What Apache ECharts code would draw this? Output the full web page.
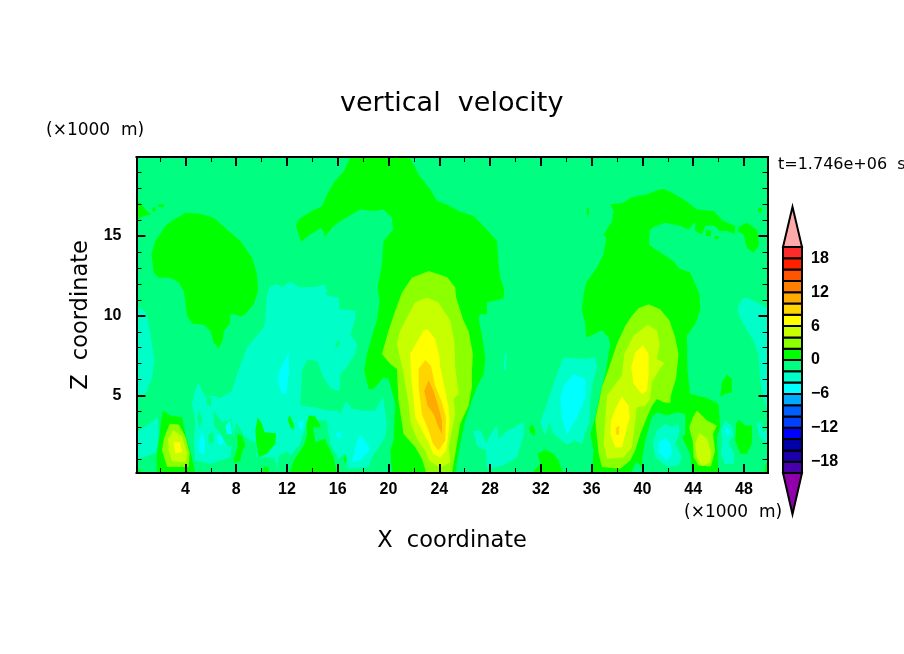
<!DOCTYPE html>
<html>
<head>
<meta charset="utf-8">
<title>vertical velocity</title>
<script src="https://cdn.jsdelivr.net/npm/echarts@6/dist/echarts.min.js"></script>
<style>
  html, body { margin: 0; padding: 0; background: #fff; }
  #chart { width: 904px; height: 654px; }
</style>
</head>
<body>
<div id="chart"></div>
<script>
// axis ticks, km
const xMajorTicks = [4, 8, 12, 16, 20, 24, 28, 32, 36, 40, 44, 48];
const xMinorTicks = [2, 6, 10, 14, 18, 22, 26, 30, 34, 38, 42, 46];
const zMajorTicks = [5, 10, 15];
const zMinorTicks = [1, 2, 3, 4, 6, 7, 8, 9, 11, 12, 13, 14, 16, 17, 18, 19];
const xRange = [0.15, 49.85];
const zRange = [0.15, 19.95];

// colour scale, lower edge of each band
const bandEdges = [-20, -18, -16, -14, -12, -10, -8, -6, -4, -2, 0, 2, 4, 6, 8, 10, 12, 14, 16, 18];
const bandColors = ['#4800aa', '#1c00aa', '#0000aa', '#0000ff', '#0040ff', '#0060ff', '#00aaff', '#00ffff', '#00ffc8', '#00ff80',
  '#00ff00', '#8cff00', '#c8ff00', '#ffff00', '#ffd500', '#ffaa00', '#ff7f00', '#ff5500', '#ff2000', '#ff2a2a'];
const barLabels = [-18, -12, -6, 0, 6, 12, 18];
const overColor = '#ffaaaa';
const underColor = '#9000aa';

// contour regions as [x km, z km]
const field = [[0.15, 0.15], [49.85, 0.15], [49.85, 19.95], [0.15, 19.95]];

const tealLeftUpper = [[0.15, 10.62], [0.72, 10.31], [0.98, 10], [1.24, 8.85], [1.56, 7.19], [1.38, 6.14], [0.85, 5.1], [0.15, 4.93]];
const tealLeftLower = [[0.15, 2.7], [0.98, 3.12], [1.82, 3.64], [1.9, 2.39], [1.72, 1.46], [0.72, 1.14], [0.15, 1.04]];
const tealCentral = [[10.43, 11.35], [10.69, 11.87], [11.22, 11.98], [11.61, 11.77], [12.27, 12.14], [13.06, 11.77], [14.1, 11.81], [15.02, 11.94], [15.16, 11.56], [15.02, 11.31], [16.07, 11.14], [16.15, 10.41], [17.38, 10.31], [17.38, 9.79], [16.99, 8.85], [17.51, 8.23], [17.38, 7.6], [16.59, 6.66], [16.2, 6.35], [16.2, 4.58], [16.72, 4.58], [17.12, 4.16], [17.91, 4.06], [18.96, 4.06], [19.56, 4.89], [19.87, 3.23], [19.74, 2.39], [18.69, 1.14], [18.43, 0.52], [16.86, 0.41], [16.51, 1.35], [16.07, 1.04], [15.42, 1.98], [15.16, 3.44], [13.58, 3.44], [13.06, 1.98], [12.27, 1.25], [12, 1.52], [11.35, 1.25], [11.27, 0.48], [11.01, 1.14], [9.64, 1.14], [9.51, 2.08], [8.72, 2.39], [8.02, 3.33], [7.68, 1.98], [7.54, 1.14], [5.97, 0.73], [4.79, 0.94], [4.66, 1.98], [4.79, 3.44], [4.53, 4.48], [4.79, 5.41], [5.05, 5.77], [5.31, 5.31], [5.57, 4.93], [6.02, 5], [6.76, 4.85], [7.68, 5.31], [8.07, 6.35], [8.86, 8.02], [10.17, 9.27], [10.3, 9.69]];
const tealAfterPeak = [[26.7, 2.77], [27.22, 2.85], [27.7, 1.98], [28.06, 2.6], [28.54, 3.16], [28.67, 2.29], [29.19, 2.71], [30.64, 3.33], [30.64, 2.5], [30.11, 1.14], [29.06, 0.62], [27.75, 0.41], [27.67, 1.56], [26.96, 1.87]];
const tealSlit = [[29.19, 7.64], [29.32, 7.6], [29.24, 6.6], [29.06, 6.6]];
const tealMid = [[33.79, 7.39], [35.36, 7.29], [36.28, 7.39], [36.41, 6.77], [36.02, 5.52], [35.84, 4.27], [35.84, 3.44], [35.23, 1.98], [34.71, 2.19], [34.05, 1.94], [33, 2.6], [32.74, 3.12], [32.6, 3.23], [32.34, 2.5], [31.95, 3.33], [32.74, 5.1], [33.26, 6.35]];
const tealRightLow = [[46.52, 3.39], [47.05, 3.12], [47.18, 2.5], [46.78, 2.08], [47.23, 1.35], [47.18, 0.73], [46.52, 0.68], [46.18, 1.35], [46.31, 2.19], [46.18, 2.91]];
const tealRightUp = [[47.52, 10.52], [47.83, 11.04], [48.22, 11.14], [49.01, 10.83], [49.85, 10.48], [49.85, 4.06], [49.54, 4.85], [49.28, 5.94], [49.14, 7.6], [48.75, 8.43], [47.96, 9.48], [47.57, 10.1]];
const tealEdge = [[49.01, 3.23], [49.33, 3.33], [49.54, 2.71], [49.85, 2.91], [49.85, 2.08], [49.28, 2.29]];

const bgPatchA = [[13.06, 4.37], [13.19, 6.56], [13.58, 7.25], [14.37, 7.19], [14.89, 6.14], [15.42, 5.48], [16.15, 5.27], [16.26, 6.35], [16.99, 6.73], [17.51, 6.14], [18.09, 5.31], [18.96, 4.27], [17.91, 4.27], [17.12, 4.37], [16.72, 4.79], [16.2, 3.85], [15.94, 4.06], [15.16, 4.06], [14.11, 4.27]];
const bgPatchB = [[4.92, 3.64], [5.1, 4.1], [5.34, 3.44], [5.13, 2.98]];
const bgPatchC = [[5.71, 4.93], [6.1, 4.85], [5.97, 4.27], [5.65, 4.58]];
const bgPatchD = [[6.23, 4.06], [6.89, 3.33], [7.68, 3.54], [7.81, 1.98], [7.41, 1.77], [6.76, 2.6], [6.23, 3.12]];
const bgPatchE = [[5.84, 2.6], [6.23, 2.71], [6.23, 2.08], [5.84, 1.98]];
const bgSlit = [[15.73, 7.98], [15.98, 8.44], [16.2, 8.4], [16.07, 8.06]];

const cyanA = [[5.05, 2.08], [5.31, 2.71], [5.57, 2.08], [5.44, 1.35], [5.05, 1.46]];
const cyanB = [[6.44, 2.5], [6.76, 2.56], [7.07, 2.08], [6.76, 1.87], [6.55, 2.08]];
const cyanC = [[7.15, 3.12], [7.54, 3.44], [7.68, 2.6], [7.28, 2.6]];
const cyanD = [[11.22, 6.04], [11.48, 6.66], [12.14, 7.71], [12.14, 6.35], [11.95, 5.1], [11.61, 5.1]];
const cyanE = [[12.92, 3.33], [13.32, 3.44], [13.19, 2.81], [12.92, 3.02]];
const cyanF = [[15.81, 2.6], [16.2, 2.71], [16.34, 2.39], [16.07, 2.29]];
const cyanG = [[17.77, 2.6], [18.56, 1.66], [17.77, 0.93], [17.12, 0.83], [17.38, 1.77]];
const cyanMid = [[34.58, 6.35], [35.5, 6.04], [35.5, 4.89], [34.84, 3.64], [34.05, 2.56], [33.66, 3.64], [33.53, 4.89], [33.79, 5.62]];
const cyanRight = [[46.65, 3.02], [46.91, 2.71], [46.7, 2.5], [46.52, 2.77]];

const greenCorner = [[0.15, 17.18], [0.46, 17.08], [0.85, 16.66], [1.3, 16.35], [0.72, 16.25], [0.15, 15.98]];
const greenDotA = [[1.36, 16.66], [1.51, 16.84], [1.66, 16.66], [1.51, 16.48]];
const greenDotB = [[1.85, 16.98], [2.3, 16.98], [2.3, 16.82], [1.85, 16.82]];
const greenBlob = [[4, 16.46], [5.18, 16.39], [6.23, 16.14], [7.28, 15.41], [8.33, 14.69], [9.25, 13.64], [9.64, 12.6], [9.72, 11.56], [9.38, 10.73], [8.72, 10.1], [8.33, 9.96], [7.86, 10.1], [7.54, 10.1], [7.49, 9.48], [7.02, 9.06], [6.97, 8.54], [6.63, 7.96], [6.23, 8.33], [5.97, 9.06], [5.44, 9.44], [4.53, 9.52], [4.13, 10], [4, 10.94], [3.87, 11.56], [3.48, 12.08], [2.82, 12.39], [1.9, 12.39], [1.51, 12.7], [1.32, 13.85], [1.64, 14.69], [2.16, 15.31], [2.43, 15.62], [3.08, 16.04], [3.6, 16.25]];
const greenLeftPeak = [[2.24, 4.06], [2.82, 3.75], [3.74, 3.64], [4, 2.6], [4.53, 1.04], [4.79, 0.15], [1.77, 0.15], [1.72, 1.14], [1.98, 2.6], [2.08, 3.44]];
const greenFoot = [[0.15, 0.52], [0.67, 0.15], [0.15, 0.15]];
const greenA = [[8.07, 2.6], [8.46, 2.5], [8.72, 1.87], [8.46, 1.46], [8.33, 0.94], [7.81, 0.73], [7.86, 1.14], [8.12, 1.77]];
const greenB = [[9.7, 3.64], [10.04, 3.23], [10.22, 2.71], [11.14, 2.64], [11.09, 1.98], [10.43, 1.35], [9.77, 1.14], [9.59, 1.98], [9.51, 2.81]];
const greenC = [[12.22, 3.75], [12.53, 3.23], [12.53, 2.85], [12.27, 3.02], [12.06, 3.54]];
const greenBlock = [[13.71, 3.75], [14.24, 3.69], [14.63, 3.12], [15.16, 1.98], [15.68, 1.14], [15.94, 0.15], [12.22, 0.15], [12.53, 0.94], [13.32, 1.87], [13.58, 2.5], [13.58, 3.23]];
const bgBlockHole = [[14.05, 3.02], [15.02, 3.02], [15.02, 2.29], [14.24, 2.08]];
const greenD = [[10.04, 0.15], [10.17, 0.56], [10.56, 0.52], [10.56, 0.15]];
const greenE = [[16.47, 0.94], [16.6, 1.35], [16.73, 0.94], [16.6, 0.79]];
const greenCentral = [[12.71, 15.62], [12.92, 16.04], [13.84, 16.52], [14.76, 16.87], [15.16, 17.6], [15.68, 18.33], [16.47, 19.06], [16.99, 19.95], [21.66, 19.95], [22.37, 18.85], [23.29, 17.91], [23.81, 17.19], [24.6, 16.98], [25.65, 16.52], [26.7, 16.25], [27.75, 15.41], [28.54, 14.69], [28.67, 13.23], [28.8, 12.39], [29.11, 11.66], [29.06, 11.1], [27.75, 10.83], [27.75, 10.1], [27.22, 10.1], [27.09, 9.79], [27.35, 8.85], [27.62, 7.39], [27.49, 6.35], [26.96, 5.52], [26.57, 4.69], [26.04, 3.44], [25.65, 1.98], [25.25, 0.15], [20.27, 0.15], [20.14, 1.56], [20.4, 2.19], [20.53, 4.48], [20.01, 6.04], [19.61, 6.14], [18.82, 5.41], [18.43, 5.41], [18.09, 6.56], [18.3, 7.6], [18.82, 9.06], [19.09, 9.69], [19.3, 10.94], [19.14, 11.77], [19.48, 13.23], [19.61, 14.69], [20.35, 15.41], [20.27, 16.14], [19.61, 16.66], [18.82, 16.56], [17.77, 16.66], [16.2, 15.93], [15.68, 15.62], [14.95, 14.93], [14.89, 15.31], [14.63, 15.48], [13.84, 15.1], [13.11, 14.64]];
const greenSpot = [[31.08, 3.02], [31.37, 3.19], [31.55, 2.77], [31.5, 2.44], [31.16, 2.71]];
const greenFloor = [[31.29, 0.15], [31.95, 0.73], [31.74, 1.35], [32.34, 1.6], [33, 1.35], [33.39, 0.93], [33.73, 0.15]];
const greenRight = [[41.66, 17.96], [42.58, 17.6], [43.37, 17.23], [44.29, 16.66], [45.6, 16.56], [46.39, 15.93], [47.31, 15.62], [47.25, 15.14], [46.65, 15.31], [46.13, 15.31], [45.6, 15.68], [44.94, 15.62], [44.68, 15.1], [44.16, 15.31], [44.16, 15.89], [43.63, 15.41], [42.98, 15.62], [41.79, 15.83], [40.88, 15.56], [40.54, 15.31], [40.54, 14.44], [41.14, 14.1], [42.45, 13.44], [42.84, 12.98], [43.76, 12.71], [44.16, 11.98], [44.5, 11.35], [44.55, 10.31], [44.16, 9.48], [43.5, 8.75], [43.55, 6.56], [43.76, 5.1], [45.08, 4.85], [45.99, 4.48], [46.13, 3.02], [45.86, 2.39], [45.99, 0.15], [36.02, 0.15], [36.15, 1.56], [35.89, 2.6], [36.28, 3.64], [36.68, 5.1], [37.07, 6.35], [37.46, 8.23], [37.33, 8.64], [36.81, 9.1], [36.15, 8.85], [35.57, 8.64], [35.5, 9.48], [35.23, 10.31], [35.36, 11.35], [35.57, 12.08], [36.41, 13.02], [36.94, 13.85], [37.15, 14.89], [36.94, 15.1], [37.6, 15.93], [37.73, 16.56], [37.46, 16.98], [38.51, 17.08], [39.04, 17.39], [40.35, 17.6], [41.14, 17.85]];
const greenFingerEnd = [[47.57, 15.56], [48.22, 15.83], [49.01, 15.41], [49.22, 14.48], [48.75, 13.95], [48.22, 14.27], [47.96, 15.1], [47.49, 15.31]];
const greenDotC = [[35.62, 16.3], [35.78, 16.3], [35.78, 16.75], [35.62, 16.75]];
const greenDotD = [[49.1, 16.5], [49.4, 16.5], [49.4, 16.75], [49.1, 16.75]];
const greenDotE = [[45, 15], [45.4, 15], [45.4, 15.35], [45, 15.35]];
const greenDotF = [[45.7, 14.8], [46, 14.8], [46, 15], [45.7, 15]];
const greenPatchR = [[47.57, 3.48], [48.1, 3.12], [48.62, 3.12], [48.62, 1.98], [48.22, 1.35], [47.7, 1.35], [47.31, 2.19], [47.39, 3.23]];
const greenPatchS = [[46.65, 6.31], [47.05, 6.04], [47.05, 5.21], [46.52, 5.1], [46.13, 4.93], [46.26, 5.83]];
const greenPatchT = [[49.6, 0.15], [49.7, 0.7], [49.85, 0.9], [49.85, 0.15]];

const bgHole = [[40.75, 3.64], [41.14, 3.96], [41.93, 3.75], [42.71, 3.96], [43.37, 3.85], [43.37, 2.6], [43.11, 2.39], [43.76, 1.35], [43.9, 0.15], [40.09, 0.15], [39.96, 0.93], [40.22, 2.19]];
const bgTip = [[39.12, 0.15], [39.51, 0.87], [39.96, 0.52], [40.09, 0.15]];
const tealHole = [[41.79, 3.23], [42.32, 3.02], [42.84, 3.23], [42.92, 2.71], [42.58, 1.98], [43.11, 1.14], [42.84, 0.62], [41.93, 0.56], [41, 1.14], [40.82, 2.08], [41.14, 2.81]];
const cyanHole = [[41.79, 2.33], [42.24, 1.98], [42.32, 1.35], [41.93, 0.94], [41.27, 1.46], [41.27, 2.08]];

const limeLeft = [[2.77, 3.23], [3.48, 3.19], [4, 2.43], [4.34, 1.35], [4.26, 0.52], [2.56, 0.52], [2.16, 1.56], [2.3, 2.29]];
const lemonLeft = [[3.08, 2.81], [3.74, 2.43], [4.13, 1.35], [4, 0.83], [2.95, 0.89], [2.69, 1.56], [2.64, 2.29]];
const yellowLeft = [[3.08, 2.08], [3.6, 2.08], [3.74, 1.46], [3.21, 1.39]];

const limeCentral = [[21.06, 11.46], [21.84, 12.39], [23.16, 12.81], [24.6, 12.43], [25.26, 11.77], [25.33, 11.14], [25.91, 9.69], [26.3, 9.06], [26.65, 7.6], [26.57, 6.56], [26.57, 5.52], [26.3, 4.37], [25.65, 3.23], [25.26, 1.35], [25, 0.15], [22.97, 0.15], [22.63, 1.04], [22.11, 1.77], [21.19, 2.6], [20.79, 4.68], [20.66, 6.66], [20.14, 6.98], [19.48, 7.6], [20, 9.06], [20.53, 10.31]];
const lemonCentral = [[22.1, 10.83], [23.02, 11.14], [23.94, 10.83], [24.86, 9.69], [25.18, 8.43], [25.26, 6.77], [25.52, 5.1], [25.12, 4.79], [25.26, 3.85], [24.73, 1.77], [24.86, 0.83], [24.07, 0.48], [23.16, 0.93], [22.89, 1.56], [22.24, 2.29], [21.76, 3.23], [21.58, 4.48], [21.19, 6.35], [20.66, 8.23], [20.92, 9.06], [21.45, 9.89]];
const yellowCentral = [[23.08, 9.16], [23.68, 8.54], [24.02, 7.39], [24.07, 6.77], [24.47, 5.31], [24.73, 4.27], [24.81, 3.23], [24.55, 1.56], [24.07, 1.1], [23.5, 1.35], [23.23, 1.98], [22.71, 2.71], [22.11, 3.64], [21.76, 6.35], [21.71, 7.6], [22.37, 8.54], [22.76, 9.06]];
const goldCentral = [[22.89, 7.23], [23.34, 6.87], [23.68, 5.62], [24.21, 4.58], [24.52, 3.64], [24.47, 2.19], [23.94, 1.56], [23.5, 1.98], [23.16, 2.81], [22.63, 3.85], [22.37, 5.52], [22.37, 6.66]];
const orangeCentral = [[23.16, 5.94], [23.55, 5.31], [23.94, 4.27], [24.21, 3.44], [24.21, 2.6], [23.94, 3.02], [23.55, 3.85], [23.08, 4.37], [22.81, 5.31]];

const limeRight = [[39.17, 10], [39.7, 10.48], [40.48, 10.73], [41.4, 10.41], [42.14, 9.69], [42.58, 8.64], [42.84, 7.6], [42.66, 6.14], [42.24, 5], [42.19, 4.52], [41.66, 4.58], [41.14, 4.79], [40.75, 4.37], [40.35, 3.64], [39.83, 2.6], [39.43, 1.56], [39.04, 0.93], [38.25, 0.41], [36.81, 0.52], [36.55, 1.35], [36.28, 3.44], [36.81, 5.52], [37.33, 6.66], [37.99, 8.23], [38.65, 9.37]];
const lemonRight = [[40.43, 9.44], [41.14, 9.06], [41.35, 8.23], [41.14, 7.29], [41.72, 7.04], [41.27, 6.56], [40.75, 5.83], [40.61, 4.79], [40.22, 4.37], [39.56, 4.27], [39.3, 2.6], [39.17, 1.77], [38.51, 1.14], [37.2, 1.04], [36.94, 1.98], [37.07, 3.44], [37.2, 5], [38.38, 6.25], [38.57, 7.6], [39.3, 8.75]];
const yellowRightUp = [[40.04, 8.16], [40.48, 7.6], [40.48, 6.35], [40.35, 5.31], [39.96, 5.1], [39.3, 5.73], [39.12, 6.77], [39.43, 7.7]];
const yellowRightLow = [[38.38, 4.94], [38.91, 4.37], [38.99, 3.64], [38.65, 2.6], [38.38, 1.77], [37.86, 1.77], [37.46, 2.6], [37.52, 3.44], [37.86, 4.16]];
const goldRight = [[37.91, 3], [38.17, 3.12], [38.17, 2.56], [37.91, 2.56]];
const limeSmall = [[44.29, 4.06], [45.08, 3.44], [45.86, 3.12], [45.55, 2.6], [45.73, 1.56], [45.39, 0.56], [44.42, 0.62], [44.03, 1.14], [43.97, 2.08], [43.68, 3.02], [43.97, 3.64]];
const lemonSmall = [[44.5, 2.66], [45.08, 2.29], [45.42, 1.46], [45.34, 0.83], [44.68, 0.58], [44.29, 1.14], [44.16, 1.98]];

// painted back to front, [velocity, contour]
const regions = [
  [-1, field],
  [-3, tealLeftUpper], [-3, tealLeftLower], [-3, tealCentral], [-3, tealAfterPeak], [-3, tealSlit],
  [-3, tealMid], [-3, tealRightLow], [-3, tealRightUp], [-3, tealEdge],
  [-1, bgPatchA], [-1, bgPatchB], [-1, bgPatchC], [-1, bgPatchD], [-1, bgPatchE], [-1, bgSlit],
  [-5, cyanA], [-5, cyanB], [-5, cyanC], [-5, cyanD], [-5, cyanE], [-5, cyanF], [-5, cyanG], [-5, cyanMid], [-5, cyanRight],
  [1, greenCorner], [1, greenDotA], [1, greenDotB], [1, greenBlob], [1, greenLeftPeak], [1, greenFoot],
  [1, greenA], [1, greenB], [1, greenC], [1, greenBlock], [-1, bgBlockHole], [1, greenD], [1, greenE],
  [1, greenCentral], [1, greenSpot], [1, greenFloor], [1, greenRight], [1, greenFingerEnd],
  [1, greenDotC], [1, greenDotD], [1, greenDotE], [1, greenDotF], [1, greenPatchR], [1, greenPatchS], [1, greenPatchT],
  [-1, bgHole], [-1, bgTip], [-3, tealHole], [-5, cyanHole],
  [3, limeLeft], [5, lemonLeft], [7, yellowLeft],
  [3, limeCentral], [5, lemonCentral], [7, yellowCentral], [9, goldCentral], [11, orangeCentral],
  [3, limeRight], [5, lemonRight], [7, yellowRightUp], [7, yellowRightLow], [9, goldRight],
  [3, limeSmall], [5, lemonSmall]
];

const bandColor = (v) => bandColors[bandEdges.filter((e) => e <= v).length - 1];

const plotRect = { left: 136.5, top: 157, width: 631, height: 316 };
const barRect = { left: 783, top: 247, width: 19, height: 226 };
const textFont = '"DejaVu Sans"';
const numFont = '"Liberation Sans"';

const xAxisFor = (gridIndex, position, ticks, length, width, labels) => ({
  type: 'value', gridIndex, position, min: xRange[0], max: xRange[1], z: 10,
  splitLine: { show: false },
  axisLine: { show: true, onZero: false, lineStyle: { color: '#000', width: 2 } },
  axisTick: { show: true, inside: true, customValues: ticks, length, lineStyle: { color: '#000', width } },
  axisLabel: labels
    ? { show: true, customValues: ticks, margin: 9, color: '#000', fontSize: 16, fontFamily: numFont, fontWeight: 'bold' }
    : { show: false }
});

const yAxisFor = (gridIndex, position, ticks, length, width, labels) => ({
  type: 'value', gridIndex, position, min: zRange[0], max: zRange[1], z: 10,
  splitLine: { show: false },
  axisLine: { show: true, onZero: false, lineStyle: { color: '#000', width: 2 } },
  axisTick: { show: true, inside: true, customValues: ticks, length, lineStyle: { color: '#000', width } },
  axisLabel: labels
    ? { show: true, customValues: ticks, margin: 15, color: '#000', fontSize: 16, fontFamily: numFont, fontWeight: 'bold' }
    : { show: false }
});

const xName = {
  name: 'X  coordinate', nameLocation: 'middle', nameGap: 57,
  nameTextStyle: { color: '#000', fontSize: 22.5, fontFamily: textFont }
};
const zName = {
  name: 'Z  coordinate', nameLocation: 'middle', nameGap: 39,
  nameTextStyle: { color: '#000', fontSize: 22.5, fontFamily: textFont }
};

const chart = echarts.init(document.getElementById('chart'));

chart.setOption({
  animation: false,
  backgroundColor: '#fff',
  title: [
    { text: 'vertical  velocity', left: 340, top: 90, padding: 0, textStyle: { color: '#000', fontSize: 27, fontWeight: 'normal', fontFamily: textFont } },
    { text: '(×1000  m)', left: 46, top: 122, padding: 0, textStyle: { color: '#000', fontSize: 17, fontWeight: 'normal', fontFamily: textFont } },
    { text: '(×1000  m)', left: 684, top: 504, padding: 0, textStyle: { color: '#000', fontSize: 17, fontWeight: 'normal', fontFamily: textFont } },
    { text: 't=1.746e+06  s', left: 778, top: 157, padding: 0, textStyle: { color: '#000', fontSize: 16, fontWeight: 'normal', fontFamily: textFont } }
  ],
  grid: [plotRect, plotRect, barRect],
  xAxis: [
    Object.assign(xAxisFor(0, 'bottom', xMajorTicks, 9, 2, true), xName),
    xAxisFor(0, 'top', xMajorTicks, 9, 2, false),
    xAxisFor(1, 'bottom', xMinorTicks, 5, 1, false),
    xAxisFor(1, 'top', xMinorTicks, 5, 1, false),
    { type: 'value', gridIndex: 2, min: 0, max: 1, show: false }
  ],
  yAxis: [
    Object.assign(yAxisFor(0, 'left', zMajorTicks, 9, 2, true), zName),
    yAxisFor(0, 'right', zMajorTicks, 9, 2, false),
    yAxisFor(1, 'left', zMinorTicks, 5, 1, false),
    yAxisFor(1, 'right', zMinorTicks, 5, 1, false),
    {
      type: 'value', gridIndex: 2, position: 'right', min: -20, max: 20,
      splitLine: { show: false },
      axisLine: { show: false },
      axisTick: { show: false },
      axisLabel: {
        customValues: barLabels, margin: 9, color: '#000', fontSize: 16, fontFamily: numFont, fontWeight: 'bold',
        formatter: (v) => String(v).replace('-', '\u2212')
      }
    }
  ],
  series: [
    {
      type: 'custom',
      xAxisIndex: 0,
      yAxisIndex: 0,
      clip: true,
      silent: true,
      z: 1,
      data: regions.map((r) => [r[1][0][0], r[1][0][1], r[0]]),
      renderItem: (params, api) => {
        const r = regions[params.dataIndex];
        return {
          type: 'polygon',
          shape: { points: r[1].map((p) => api.coord(p)) },
          style: { fill: bandColor(r[0]) }
        };
      }
    },
    {
      type: 'custom',
      xAxisIndex: 4,
      yAxisIndex: 4,
      silent: true,
      z: 1,
      data: bandEdges.map((e, i) => [e, i]),
      renderItem: (params, api) => {
        const low = api.coord([0, bandEdges[params.dataIndex]]);
        const high = api.coord([1, bandEdges[params.dataIndex] + 2]);
        return {
          type: 'rect',
          shape: { x: low[0], y: high[1], width: high[0] - low[0], height: low[1] - high[1] },
          style: { fill: bandColors[params.dataIndex], stroke: '#000', lineWidth: 2 }
        };
      }
    },
    {
      type: 'custom',
      xAxisIndex: 4,
      yAxisIndex: 4,
      silent: true,
      z: 1,
      data: [[20, 27.1, overColor], [-20, -27.3, underColor]],
      renderItem: (params, api) => {
        const base = api.value(0);
        const tip = api.value(1);
        return {
          type: 'polygon',
          shape: { points: [api.coord([0, base]), api.coord([1, base]), api.coord([0.5, tip])] },
          style: { fill: params.dataIndex === 0 ? overColor : underColor, stroke: '#000', lineWidth: 2 }
        };
      }
    }
  ]
});
</script>
</body>
</html>
